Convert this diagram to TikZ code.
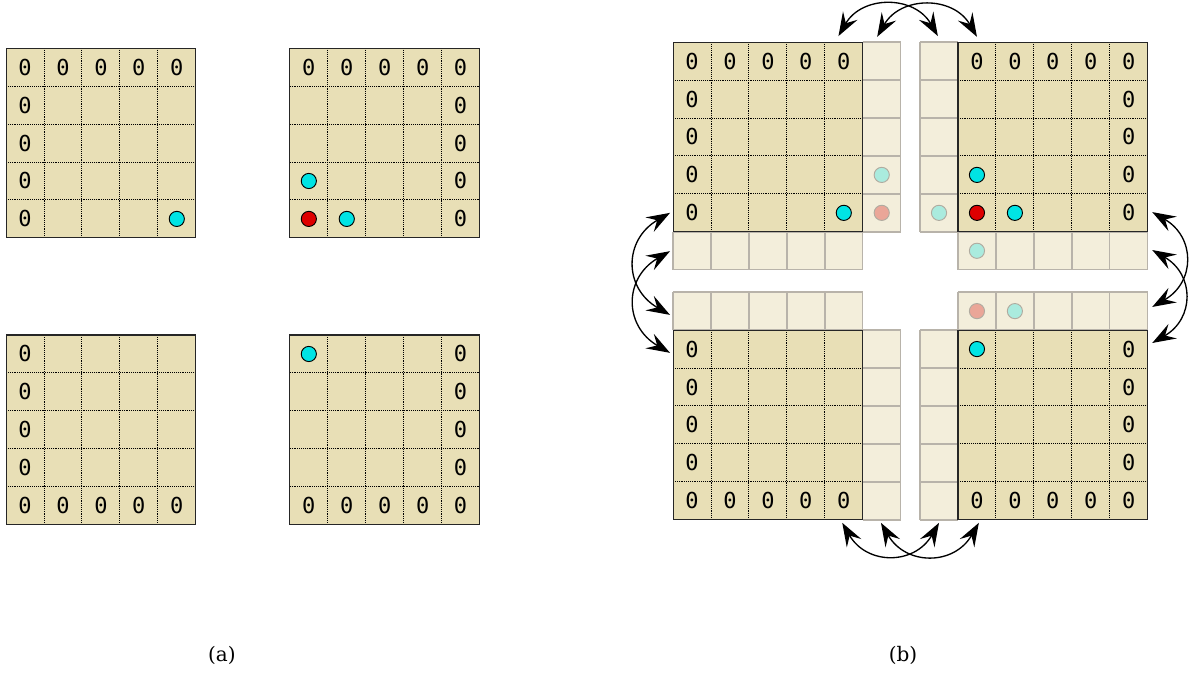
\documentclass[tikz,border=0pt]{standalone}
\usepackage{fontspec}
\newfontfamily\zerofont{DejaVu Sans Mono}
\newfontfamily\capfont{DejaVu Serif}
\usetikzlibrary{arrows.meta}

\definecolor{tilefill}{RGB}{232,223,182}
\definecolor{halofill}{RGB}{243,238,219}
\definecolor{haloline}{RGB}{184,179,170}
\definecolor{agentcol}{RGB}{0,228,228}
\definecolor{goalcol}{RGB}{222,0,0}
\definecolor{agentfade}{RGB}{170,235,222}
\definecolor{goalfade}{RGB}{234,166,152}
\definecolor{copyline}{RGB}{176,171,160}

\tikzset{
  zero/.style={font=\zerofont\fontsize{16.5}{17}\selectfont,inner sep=0pt},
  cellsep/.style={black,dash pattern=on 0.7pt off 0.7pt,line width=0.7pt},
  tileedge/.style={draw=black!85,line width=0.8pt},
  halo/.style={draw=haloline,line width=1.1pt},
  agent/.style={circle,draw=black,line width=0.7pt,fill=agentcol,minimum size=4mm,inner sep=0pt},
  goal/.style={agent,fill=goalcol},
  agentcopy/.style={agent,draw=copyline,fill=agentfade},
  goalcopy/.style={agent,draw=copyline,fill=goalfade},
  exch/.style={<->,>={Stealth[length=6.2mm,width=4.4mm,inset=2.3mm]},line width=1pt},
  caption/.style={font=\capfont\fontsize{15}{17}\selectfont},
}

% one 5x5 tile, top left corner at the scope origin
\newcommand{\tile}{%
  \fill[tilefill] (0,0) rectangle (5,-5);
  \draw[cellsep] (0,0) grid (5,-5);
  \draw[tileedge] (0,0) rectangle (5,-5);
}
% copied cells next to a tile
\newcommand{\halostrip}[2]{%
  \fill[halofill] (#1) rectangle (#2);
  \draw[halo] (#1) grid (#2);
}
% zeros: whole row #1, or column #1 on the rows #2
\newcommand{\zerorow}[1]{\foreach \c in {1,...,5} \node[zero] (z#1-\c) at (\c-0.5,0.5-#1) {0};}
\newcommand{\zerocol}[2]{\foreach \r in {#2} \node[zero] (z\r-#1) at (#1-0.5,0.5-\r) {0};}

\begin{document}
\begin{tikzpicture}
\useasboundingbox (0,0) rectangle (31.55,-17.74);

% (a)
\begin{scope}[shift={(0.16,-1.27)},name prefix=a1-]
  \tile
  \zerorow{1} \zerocol{1}{2,...,5}
  \node[agent] (p) at (4.5,-4.5) {};
\end{scope}
\begin{scope}[shift={(7.64,-1.27)},name prefix=a2-]
  \tile
  \zerorow{1} \zerocol{5}{2,...,5}
  \node[agent] (p) at (0.5,-3.5) {};
  \node[goal] (g) at (0.5,-4.5) {};
  \node[agent] (q) at (1.5,-4.5) {};
\end{scope}
\begin{scope}[shift={(0.16,-8.83)},name prefix=a3-]
  \tile
  \zerocol{1}{1,...,4} \zerorow{5}
\end{scope}
\begin{scope}[shift={(7.64,-8.83)},name prefix=a4-]
  \tile
  \zerocol{5}{1,...,4} \zerorow{5}
  \node[agent] (p) at (0.5,-0.5) {};
\end{scope}
\node[caption] (cap-a) at (5.85,-17.27) {(a)};

% (b)
\begin{scope}[shift={(17.74,-1.11)},name prefix=b1-]
  \halostrip{5,0}{6,-5}
  \halostrip{0,-5}{5,-6}
  \tile
  \zerorow{1} \zerocol{1}{2,...,5}
  \node[agent] (p) at (4.5,-4.5) {};
  \node[agentcopy] (pc) at (5.5,-3.5) {};
  \node[goalcopy] (gc) at (5.5,-4.5) {};
\end{scope}
\begin{scope}[shift={(25.25,-1.11)},name prefix=b2-]
  \halostrip{-1,0}{0,-5}
  \halostrip{0,-5}{5,-6}
  \tile
  \zerorow{1} \zerocol{5}{2,...,5}
  \node[agentcopy] (qc) at (-0.5,-4.5) {};
  \node[agent] (p) at (0.5,-3.5) {};
  \node[goal] (g) at (0.5,-4.5) {};
  \node[agent] (q) at (1.5,-4.5) {};
  \node[agentcopy] (rc) at (0.5,-5.5) {};
\end{scope}
\begin{scope}[shift={(17.74,-8.70)},name prefix=b3-]
  \halostrip{0,1}{5,0}
  \halostrip{5,0}{6,-5}
  \tile
  \zerocol{1}{1,...,4} \zerorow{5}
\end{scope}
\begin{scope}[shift={(25.25,-8.70)},name prefix=b4-]
  \halostrip{0,1}{5,0}
  \halostrip{-1,0}{0,-5}
  \tile
  \zerocol{5}{1,...,4} \zerorow{5}
  \node[goalcopy] (gc) at (0.5,0.5) {};
  \node[agentcopy] (pc) at (1.5,0.5) {};
  \node[agent] (p) at (0.5,-0.5) {};
\end{scope}
\node[caption] (cap-b) at (23.80,-17.27) {(b)};

% exchange arrows
\coordinate (n1) at (22.10,-0.95);
\coordinate (n2) at (23.12,-0.97);
\coordinate (n3) at (24.72,-0.95);
\coordinate (n4) at (25.75,-0.97);
\coordinate (s1) at (22.20,-13.78);
\coordinate (s2) at (23.22,-13.78);
\coordinate (s3) at (24.75,-13.78);
\coordinate (s4) at (25.80,-13.78);
\coordinate (w1) at (17.66,-5.61);
\coordinate (w2) at (17.66,-6.62);
\coordinate (w3) at (17.66,-8.30);
\coordinate (w4) at (17.66,-9.30);
\coordinate (e1) at (30.37,-5.59);
\coordinate (e2) at (30.37,-6.59);
\coordinate (e3) at (30.37,-8.09);
\coordinate (e4) at (30.37,-9.04);
\draw[exch] (n1) to[out=60,in=120,looseness=1.22] (n3);
\draw[exch] (n2) to[out=60,in=120,looseness=1.22] (n4);
\draw[exch] (s1) to[out=-60,in=-120,looseness=1.3] (s3);
\draw[exch] (s2) to[out=-60,in=-120,looseness=1.3] (s4);
\draw[exch] (w1) to[out=210,in=150,looseness=1.35] (w3);
\draw[exch] (w2) to[out=210,in=150,looseness=1.35] (w4);
\draw[exch] (e1) to[out=-30,in=30,looseness=1.35] (e3);
\draw[exch] (e2) to[out=-30,in=30,looseness=1.35] (e4);
\end{tikzpicture}
\end{document}
